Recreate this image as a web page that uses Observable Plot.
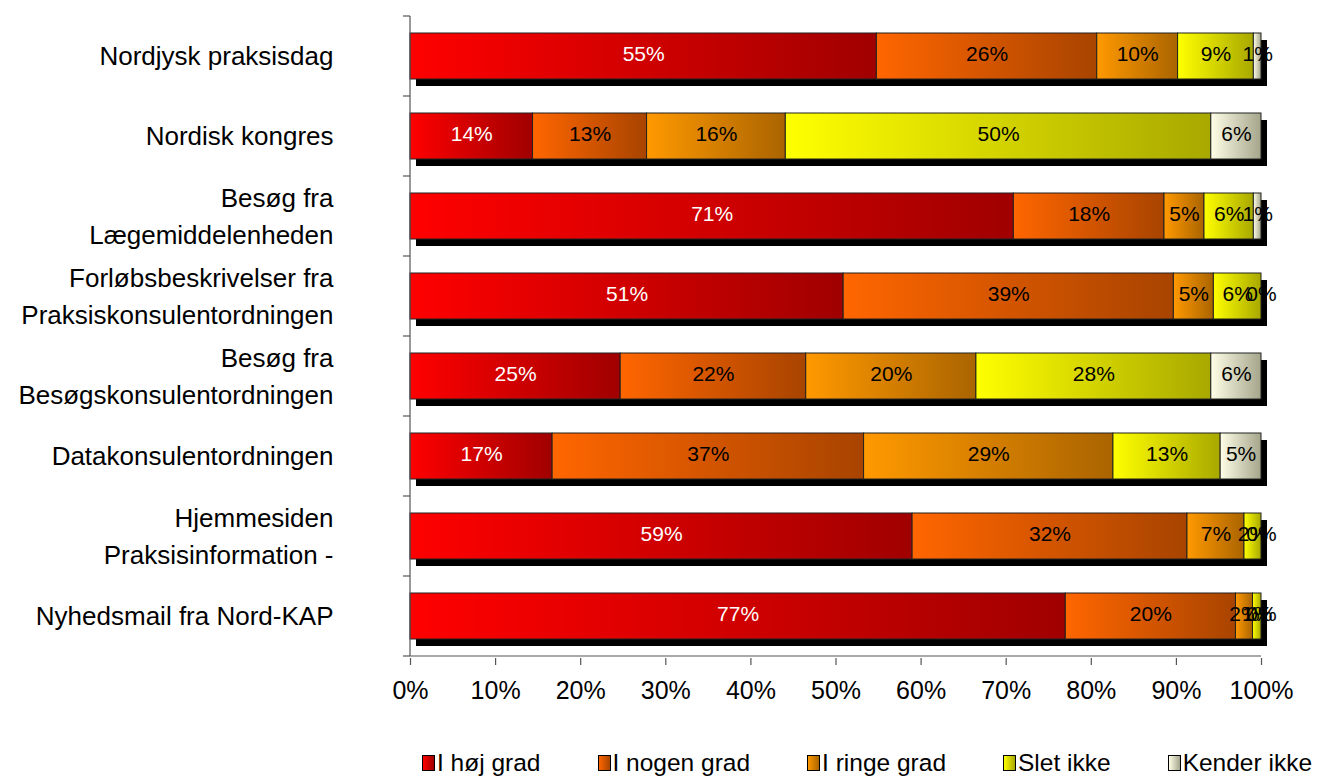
<!DOCTYPE html>
<html><head><meta charset="utf-8">
<script src="https://cdn.jsdelivr.net/npm/d3@7"></script>
<script src="https://cdn.jsdelivr.net/npm/@observablehq/plot@0.6"></script>
<style>
  body { margin: 0; background: #fff; font-family: "Liberation Sans", Arial, sans-serif; }
  #wrap { position: relative; width: 1319px; height: 781px; }
  #legend { position: absolute; left: 422px; top: 749px; height: 28px; display: flex;
            font-family: "Liberation Sans", Arial, sans-serif; font-size: 24.5px; color: #000; white-space: nowrap; }
  #legend .item { height: 28px; display: flex; align-items: center; margin-right: 57px; }
  #legend .sw { width: 11px; height: 14px; border: 1px solid #000; margin-right: 2px; }
</style></head>
<body>
<svg width="0" height="0" style="position:absolute"><defs id="defs"></defs></svg>
<div id="wrap"><div id="chart"></div><div id="legend"></div></div>
<script>
// ---- data ----
const categories = ["Nordjysk praksisdag", "Nordisk kongres", "Besøg fra Lægemiddelenheden",
  "Forløbsbeskrivelser fra Praksiskonsulentordningen", "Besøg fra Besøgskonsulentordningen",
  "Datakonsulentordningen", "Hjemmesiden Praksisinformation -", "Nyhedsmail fra Nord-KAP"];
const categoryLines = ["Nordjysk praksisdag", "Nordisk kongres", "Besøg fra\nLægemiddelenheden",
  "Forløbsbeskrivelser fra\nPraksiskonsulentordningen", "Besøg fra\nBesøgskonsulentordningen",
  "Datakonsulentordningen", "Hjemmesiden\nPraksisinformation -", "Nyhedsmail fra Nord-KAP"];
const seriesNames = ["I høj grad", "I nogen grad", "I ringe grad", "Slet ikke", "Kender ikke"];
const hojGrad    = [54.8, 14.4, 70.9, 50.9, 24.7, 16.7, 59.0, 77.0];
const nogenGrad  = [25.9, 13.4, 17.7, 38.8, 21.8, 36.6, 32.3, 20.0];
const ringeGrad  = [ 9.5, 16.3,  4.7,  4.7, 20.0, 29.3,  6.7,  2.0];
const sletIkke   = [ 8.9, 50.0,  5.8,  5.6, 27.6, 12.6,  2.0,  1.0];
const kenderIkke = [ 0.9,  5.9,  0.9,  0.0,  5.9,  4.8,  0.0,  0.0];
const xTicks = [0, 10, 20, 30, 40, 50, 60, 70, 80, 90, 100];

// gradient colours (light -> dark) per series
const gradients = [["#ff0000", "#a00000"], ["#ff6600", "#a84400"], ["#ff9900", "#aa6400"],
                   ["#ffff00", "#a8a800"], ["#ffffe8", "#a5a58c"]];

// ---- build table ----
const seriesValues = [hojGrad, nogenGrad, ringeGrad, sletIkke, kenderIkke];
const table = [];
categories.forEach((c, i) => seriesValues.forEach((vals, s) => table.push({cat: c, s, value: vals[i]})));
const totals = categories.map((c, i) => d3.sum(seriesValues, v => v[i]));

// gradient defs
const defs = d3.select("#defs");
gradients.forEach(([a, b], k) => {
  const g = defs.append("linearGradient").attr("id", "g" + k).attr("x1", 0).attr("x2", 1).attr("y1", 0).attr("y2", 0);
  g.append("stop").attr("offset", "0%").attr("stop-color", a);
  g.append("stop").attr("offset", "100%").attr("stop-color", b);
});

const axisColor = "#555";

function frameLines(index, scales, values, dimensions) {
  const {x, y} = scales;
  const g = d3.create("svg:g");
  const step = y.step(), bw = y.bandwidth();
  const x0 = x(0), x1 = x(100);
  const bounds = categories.map(c => y(c) - (step - bw) / 2);
  bounds.push(y(categories[categories.length - 1]) + bw + (step - bw) / 2);
  const top = bounds[0], bottom = bounds[bounds.length - 1];
  g.append("line").attr("x1", x0).attr("x2", x0).attr("y1", top).attr("y2", bottom)
    .attr("stroke", axisColor).attr("stroke-width", 1.2);
  g.append("line").attr("x1", x0).attr("x2", x1).attr("y1", bottom).attr("y2", bottom)
    .attr("stroke", axisColor).attr("stroke-width", 1.2);
  bounds.forEach(b => g.append("line").attr("x1", x0 - 7).attr("x2", x0).attr("y1", b).attr("y2", b)
    .attr("stroke", axisColor).attr("stroke-width", 1.2));
  return g.node();
}

const plot = Plot.plot({
  width: 1319, height: 740,
  marginLeft: 410, marginRight: 58, marginTop: 14, marginBottom: 82,
  x: {domain: [0, 100], axis: null},
  y: {domain: categories, paddingInner: 0.42, paddingOuter: 0.21, axis: null},
  color: {type: "identity"},
  style: {fontFamily: "'Liberation Sans', Arial, sans-serif", fontSize: "20px", background: "#fff", color: "#000"},
  marks: [
    Plot.barX(categories, {y: d => d, x: (d, i) => totals[i], fill: "#000", dx: 6, dy: 7}),
    Plot.barX(table, Plot.stackX({y: "cat", x: "value", fill: d => `url(#g${d.s})`, stroke: "#222", strokeWidth: 1})),
    Plot.text(table, Plot.stackX({y: "cat", x: "value", text: d => Math.round(d.value) + "%",
      fill: d => d.s === 0 ? "#fff" : "#000", fontSize: 21, dy: -2})),
    frameLines,
    Plot.axisX(xTicks, {anchor: "bottom", tickSize: 7, tickPadding: 16, tickFormat: d => d + "%",
      fontSize: 25, stroke: axisColor, strokeWidth: 1.2, label: null}),
    Plot.text(categories, {y: d => d, text: (d, i) => categoryLines[i], frameAnchor: "left",
      textAnchor: "end", dx: -77, dy: -3, fontSize: 26, lineHeight: 1.42, ariaLabel: "ylabels"})
  ]
});
document.getElementById("chart").appendChild(plot);

// centring of multi-line y labels
d3.select(plot).selectAll('g[aria-label="ylabels"] text').each(function() {
  const tspans = this.querySelectorAll("tspan");
  if (tspans.length > 1) {
    const w = this.getBBox().width;
    this.setAttribute("text-anchor", "middle");
    tspans.forEach(t => t.setAttribute("x", (parseFloat(t.getAttribute("x") || 0) - w / 2)));
  }
});

// legend
const legend = d3.select("#legend");
seriesNames.forEach((name, k) => {
  const it = legend.append("div").attr("class", "item");
  it.append("div").attr("class", "sw")
    .style("background", `linear-gradient(to right, ${gradients[k][0]}, ${gradients[k][1]})`);
  it.append("span").text(name);
});
</script>
</body></html>
